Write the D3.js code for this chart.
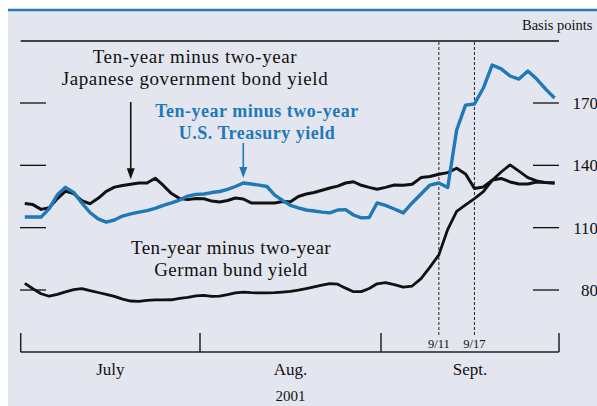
<!DOCTYPE html>
<html>
<head>
  <meta charset="UTF-8" />
  <script src="https://d3js.org/d3.v7.min.js"></script>
  <style>
    body { margin: 0; background: #fff; }
    text { font-family: "Liberation Serif", "Times New Roman", serif; fill: #111; }
  </style>
</head>
<body>
  <svg width="597" height="406"></svg>
  <script>
    // business days Jul 2 - Sep 28, 2001
    const days = d3.timeDay.range(new Date(2001, 6, 2), new Date(2001, 8, 29))
      .filter(d => d.getDay() !== 0 && d.getDay() !== 6);

    const usVals = [
      115.1, 115.1, 115.1, 119.2, 125.8, 129.4, 127.0, 121.9, 117.3, 114.2, 112.7,
      113.7, 115.6, 116.6, 117.5, 118.2, 119.3, 120.7, 121.9, 123.3, 125.2, 126.0,
      126.2, 126.9, 127.4, 128.4, 129.8, 131.5, 131.0, 130.5, 129.8, 125.7, 123.1, 120.7,
      119.5, 118.5, 118.0, 117.5, 117.1, 118.5, 118.7, 116.1, 114.7, 114.9, 121.9,
      120.7, 119.0, 117.1, 121.9, 126.2, 130.5, 131.5, 129.3, 157.0, 169.0,
      169.5, 177.2, 188.3, 186.4, 183.0, 181.5, 185.4, 181.5, 176.7, 172.4
    ];
    const jpVals = [
      121.6, 121.1, 118.8, 119.6, 124.0, 127.6, 126.4, 123.0, 121.5, 124.1, 127.5,
      129.5, 130.3, 130.9, 131.5, 131.5, 133.8, 130.3, 126.4, 124.0, 123.5, 124.0,
      123.9, 122.8, 122.4, 123.1, 124.3, 123.8, 121.9, 121.9, 121.9, 121.9, 122.6, 122.5,
      125.0, 126.2, 126.9, 128.0, 129.1, 130.0, 131.5, 132.1, 130.4, 129.4, 128.5,
      129.4, 130.5, 130.4, 130.9, 134.1, 134.6, 135.7, 136.5, 138.6, 135.8,
      128.9, 129.6, 132.9, 133.7, 132.0, 131.0, 131.0, 132.0, 131.7, 131.5
    ];
    const deVals = [
      83.2, 80.6, 78.2, 77.0, 77.9, 79.1, 80.2, 80.7, 79.7, 78.8, 77.9,
      76.9, 75.6, 74.7, 74.5, 75.0, 75.2, 75.2, 75.3, 76.0, 76.5, 77.2,
      77.4, 76.9, 77.1, 77.8, 78.6, 79.0, 78.7, 78.6, 78.6, 78.7, 79.0, 79.3,
      79.9, 80.7, 81.5, 82.3, 83.1, 82.8, 80.9, 79.2, 79.2, 80.7, 83.0,
      83.6, 82.6, 81.4, 81.9, 85.5, 91.0, 96.9, 109.2, 117.8, 121.0,
      124.0, 127.3, 132.8, 136.8, 140.2, 137.2, 134.1, 132.5, 131.7, 131.5
    ];

    const yTicks = [80, 110, 140, 170];
    const monthLabels = ["July", "Aug.", "Sept."];
    const yearLabel = "2001";
    const eventDates = [new Date(2001, 8, 11), new Date(2001, 8, 17)];
    const eventLabels = ["9/11", "9/17"];

    const blue = "#1f78b7";
    const svg = d3.select("svg");

    // page frame
    svg.append("rect").attr("x", 8).attr("y", 10).attr("width", 589).attr("height", 396)
      .attr("fill", "#e3e6ef");
    svg.append("line").attr("x1", 8).attr("x2", 597).attr("y1", 10).attr("y2", 10)
      .attr("stroke", "#2a78b6").attr("stroke-width", 2.5);

    // month boundaries in business-day index
    const bounds = [0];
    days.forEach((d, i) => { if (i > 0 && d.getMonth() !== days[i - 1].getMonth()) bounds.push(i); });
    bounds.push(days.length);

    const x = d3.scaleLinear().domain(bounds).range([20.7, 200, 381, 559]);
    const xi = i => x(i + 0.5);
    const idxOf = dt => days.findIndex(d => +d === +dt);

    const y = d3.scaleLinear().domain([80, 170]).range([290, 103]);

    // top rule
    svg.append("line").attr("x1", x(0)).attr("x2", x(days.length)).attr("y1", 41).attr("y2", 41)
      .attr("stroke", "#444").attr("stroke-width", 2);
    svg.append("text").attr("x", 522).attr("y", 30).attr("font-size", 14.5).text("Basis points");

    // y ticks both sides
    const tk = svg.append("g");
    yTicks.forEach(v => {
      tk.append("line").attr("x1", 20).attr("x2", 46).attr("y1", y(v)).attr("y2", y(v))
        .attr("stroke", "#111").attr("stroke-width", 1.3);
      tk.append("line").attr("x1", 533).attr("x2", 559).attr("y1", y(v)).attr("y2", y(v))
        .attr("stroke", "#111").attr("stroke-width", 1.3);
      tk.append("text").attr("x", 598).attr("y", y(v) + 6).attr("text-anchor", "end")
        .attr("font-size", 17).text(v);
    });

    // x axis
    const base = 352;
    svg.append("line").attr("x1", x(0)).attr("x2", x(days.length)).attr("y1", base).attr("y2", base)
      .attr("stroke", "#222").attr("stroke-width", 1.5);
    bounds.forEach(b => {
      svg.append("line").attr("x1", x(b)).attr("x2", x(b)).attr("y1", base).attr("y2", 333)
        .attr("stroke", "#222").attr("stroke-width", 1.5);
    });
    monthLabels.forEach((m, i) => {
      svg.append("text").attr("x", (x(bounds[i]) + x(bounds[i + 1])) / 2).attr("y", 375)
        .attr("text-anchor", "middle").attr("font-size", 17).text(m);
    });
    svg.append("text").attr("x", (x(bounds[1]) + x(bounds[2])) / 2).attr("y", 401)
      .attr("text-anchor", "middle").attr("font-size", 15).text(yearLabel);

    // event lines
    eventDates.forEach((dt, k) => {
      const ex = xi(idxOf(dt));
      svg.append("line").attr("x1", ex).attr("x2", ex).attr("y1", 42).attr("y2", 336)
        .attr("stroke", "#222").attr("stroke-width", 1).attr("stroke-dasharray", "3,2");
      svg.append("text").attr("x", ex).attr("y", 348).attr("text-anchor", "middle")
        .attr("font-size", 12.5).text(eventLabels[k]);
    });

    // series
    const line = d3.line().x((d, i) => xi(i)).y(d => y(d));
    const draw = (vals, color, w) => svg.append("path").datum(vals).attr("d", line)
      .attr("fill", "none").attr("stroke", color).attr("stroke-width", w)
      .attr("stroke-linejoin", "round");
    draw(deVals, "#111", 2.8);
    draw(jpVals, "#111", 3);
    draw(usVals, blue, 3.4);

    // labels
    function label(lines, cx, y0, color, weight, size, ls) {
      lines.forEach((t, i) => {
        svg.append("text").attr("x", cx).attr("y", y0 + i * 22).attr("text-anchor", "middle")
          .attr("font-size", size).attr("font-weight", weight).attr("letter-spacing", ls)
          .style("fill", color).text(t);
      });
    }
    label(["Ten-year minus two-year", "Japanese government bond yield"], 195, 63, "#111", "normal", 19, 0.6);
    label(["Ten-year minus two-year", "U.S. Treasury yield"], 257, 117, blue, "bold", 18, 0.5);
    label(["Ten-year minus two-year", "German bund yield"], 231, 254, "#111", "normal", 19, 0.4);

    // arrows pointing at data
    function arrow(i, vals, top, color) {
      const ax = xi(i), tip = y(vals[i]) - 5;
      svg.append("line").attr("x1", ax).attr("x2", ax).attr("y1", top).attr("y2", tip - 8)
        .attr("stroke", color).attr("stroke-width", 1.6);
      svg.append("path").attr("d", `M${ax - 4},${tip - 11} L${ax + 4},${tip - 11} L${ax},${tip} Z`)
        .attr("fill", color);
    }
    arrow(idxOf(new Date(2001, 6, 19)), jpVals, 102, "#111");
    arrow(idxOf(new Date(2001, 7, 8)), usVals, 143, blue);
  </script>
</body>
</html>
